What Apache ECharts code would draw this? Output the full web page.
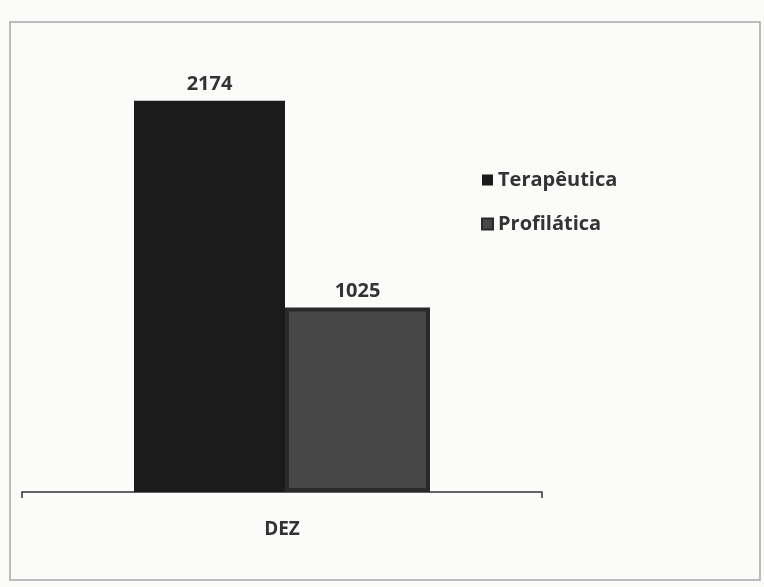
<!DOCTYPE html>
<html>
<head>
<meta charset="utf-8">
<script src="https://cdn.jsdelivr.net/npm/echarts@6/dist/echarts.min.js"></script>
<style>html,body{margin:0;padding:0;background:#fbfbfa;}#c{width:764px;height:587px;}</style>
</head>
<body>
<div id="c"></div>
<script>
var categories = ['DEZ'];
var seriesNames = ['Terapêutica', 'Profilática'];
var terapeutica = [2174];
var profilatica = [1025];

var chart = echarts.init(document.getElementById('c'));
var font = '"Open Sans", "Liberation Sans", sans-serif';
chart.setOption({
  backgroundColor: '#fbfbfa',
  animation: false,
  graphic: [{
    type: 'rect',
    shape: {x: 10, y: 22, width: 750, height: 558},
    style: {fill: 'none', stroke: '#a8a8a8', lineWidth: 1.5},
    silent: true
  }],
  grid: {left: 22, right: 222, top: 42, bottom: 95},
  legend: {
    orient: 'vertical',
    left: 476,
    top: 165,
    itemGap: 24,
    itemWidth: 11,
    itemHeight: 11,
    icon: 'rect',
    textStyle: {fontFamily: font, fontWeight: 'bold', fontSize: 20, color: '#333'},
    data: seriesNames
  },
  xAxis: {
    type: 'category',
    data: categories,
    axisLine: {lineStyle: {color: '#333', width: 1.5}},
    axisTick: {show: true, length: 6, lineStyle: {color: '#333', width: 1.5}},
    axisLabel: {margin: 28, fontFamily: font, fontWeight: 'bold', fontSize: 19, color: '#333'}
  },
  yAxis: {
    type: 'value',
    min: 0,
    max: 2500,
    show: false,
    splitLine: {show: false}
  },
  series: [{
    name: seriesNames[0],
    type: 'bar',
    data: terapeutica,
    barWidth: 151,
    barGap: '0%',
    itemStyle: {color: '#1b1b1b'},
    label: {show: true, position: 'top', distance: 6, fontFamily: font, fontWeight: 'bold', fontSize: 20, color: '#333'}
  }, {
    name: seriesNames[1],
    type: 'bar',
    data: profilatica,
    barWidth: 145,
    itemStyle: {color: '#474747', borderColor: '#2a2a2a', borderWidth: 4},
    label: {show: true, position: 'top', distance: 6, fontFamily: font, fontWeight: 'bold', fontSize: 20, color: '#333'}
  }]
});
</script>
</body>
</html>
